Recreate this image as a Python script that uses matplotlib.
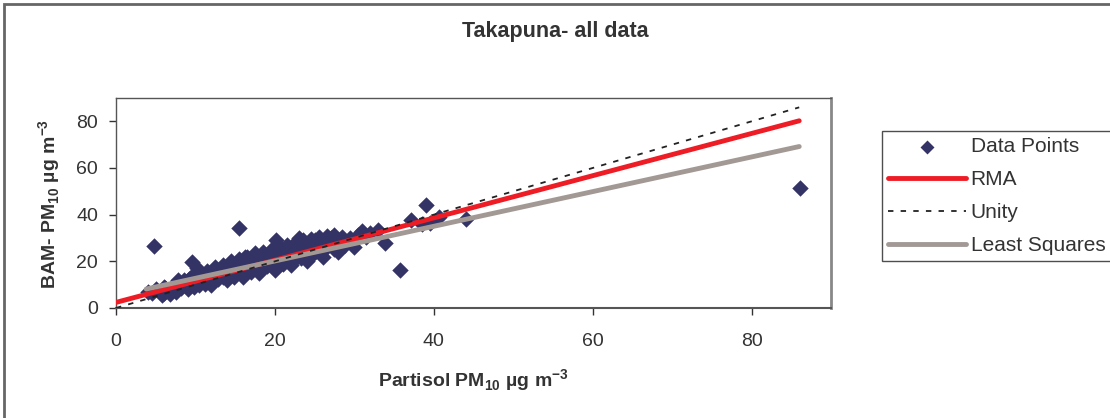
import numpy as np
import matplotlib.pyplot as plt
from matplotlib.patches import Rectangle

plt.rcParams['font.family'] = ['Liberation Sans', 'DejaVu Sans']
plt.rcParams['mathtext.fontset'] = 'custom'
plt.rcParams['mathtext.bf'] = 'Liberation Sans:bold'
plt.rcParams['mathtext.rm'] = 'Liberation Sans'

# Partisol (x) vs BAM (y)
partisol = [4.0, 4.5, 5.0, 5.5, 5.8, 6.0, 6.2, 6.5, 6.8, 7.0, 7.2, 7.5, 7.8, 8.0, 8.2,
            8.5, 8.8, 9.0, 9.2, 9.5, 9.6, 9.8, 10.0, 10.2, 10.3, 10.5, 10.8, 11.0, 11.2,
            11.5, 11.8, 12.0, 12.2, 12.5, 12.8, 13.0, 13.2, 13.5, 13.8, 14.0, 14.3, 14.5,
            14.8, 15.0, 15.2, 15.5, 15.5, 15.8, 16.0, 16.3, 16.5, 16.8, 17.0, 17.2, 17.5,
            17.8, 18.0, 18.2, 18.5, 18.8, 19.0, 19.2, 19.5, 19.8, 20.0, 20.2, 20.3, 20.5,
            20.8, 21.0, 21.2, 21.5, 21.8, 22.0, 22.3, 22.5, 22.8, 23.0, 23.0, 23.3, 23.5,
            23.8, 24.0, 24.3, 24.5, 24.8, 25.0, 25.2, 25.5, 25.8, 26.0, 26.5, 27.0, 27.0,
            27.5, 28.0, 28.5, 28.8, 29.0, 29.5, 30.0, 30.5, 31.0, 31.5, 32.0, 33.0, 33.9,
            35.7, 37.1, 38.5, 39.0, 39.5, 40.7, 44.0, 86.1, 4.8,
            6.0, 7.5, 8.5, 9.5, 10.5, 11.5, 12.5, 13.5, 14.5, 15.5, 16.5, 17.5, 18.5,
            19.5, 20.5, 21.5, 22.5, 23.5, 24.5, 25.5, 26.5, 27.5, 12.0, 14.0, 16.0,
            18.0, 20.0, 22.0, 24.0, 26.0, 28.0, 30.0]
bam = [7.0, 6.5, 8.0, 7.0, 5.5, 6.5, 8.5, 7.5, 5.8, 9.0, 8.0, 7.0, 12.0, 10.0, 8.5,
       11.0, 9.5, 8.0, 12.5, 10.5, 19.7, 9.0, 13.0, 17.0, 11.5, 10.0, 14.0, 12.0, 10.5,
       15.0, 13.0, 11.5, 16.0, 14.0, 12.5, 15.5, 17.0, 13.5, 16.5, 14.5, 18.0, 15.0,
       13.5, 17.0, 19.0, 34.2, 16.0, 14.5, 18.5, 22.0, 17.0, 20.0, 15.5, 19.0, 21.0,
       17.5, 20.5, 16.5, 19.0, 22.0, 18.0, 21.0, 23.5, 19.5, 17.5, 29.0, 22.0, 20.0,
       24.0, 19.0, 22.5, 25.5, 21.0, 23.5, 20.5, 26.0, 22.0, 30.0, 24.5, 21.5, 25.5,
       23.0, 27.0, 24.0, 22.5, 26.0, 29.0, 24.5, 27.0, 25.0, 28.0, 26.0, 30.0, 27.5,
       25.5, 29.0, 30.5, 27.0, 28.5, 30.0, 29.0, 31.5, 33.0, 30.5, 32.0, 33.5, 27.8,
       16.2, 37.6, 36.0, 44.0, 36.5, 38.9, 38.0, 51.3, 26.5,
       9.0, 10.5, 12.0, 13.5, 14.5, 16.0, 17.5, 18.5, 20.0, 21.0, 22.0, 23.5, 24.0,
       25.0, 26.5, 27.0, 28.0, 29.0, 29.5, 30.5, 31.0, 31.5, 10.0, 12.0, 13.5,
       15.0, 16.5, 18.5, 20.0, 22.0, 24.0, 26.0]

# fitted lines
rma_x = [0, 86]
rma_slope, rma_icept = 0.905, 2.4
unity_x = [0, 86]
ls_x = [3.8, 86]
ls_slope, ls_icept = 0.743, 5.3

txt = '#333333'
fig = plt.figure(figsize=(11.1, 4.18), dpi=100)
ax = fig.add_axes([116 / 1110, 1 - 308 / 418, (831 - 116) / 1110, (308 - 98) / 418])

ax.scatter(partisol, bam, marker='D', s=70, color='#333366', linewidths=0,
           zorder=2, label='Data Points')
rx = np.array(rma_x)
ax.plot(rx, rma_slope * rx + rma_icept, color='#ee1c25', lw=3.5,
        solid_capstyle='round', zorder=3, label='RMA')
ax.plot(unity_x, unity_x, color='#222222', lw=1.3, ls=(0, (3, 4)), zorder=4, label='Unity')
lx = np.array(ls_x)
ax.plot(lx, ls_slope * lx + ls_icept, color='#a29995', lw=3.5,
        solid_capstyle='round', zorder=3, label='Least Squares')

ax.set_xlim(0, 90)
ax.set_ylim(0, 90)
ax.set_xticks([0, 20, 40, 60, 80])
ax.set_yticks([0, 20, 40, 60, 80])
ax.tick_params(direction='out', length=5, width=1, labelsize=14, colors=txt)
ax.tick_params(axis='x', pad=13)
ax.tick_params(axis='y', pad=8)
for s in ax.spines.values():
    s.set_color('#555555')
    s.set_linewidth(1)
ax.spines['right'].set_color('#888888')
ax.spines['right'].set_linewidth(2)
ax.spines['bottom'].set_linewidth(1.5)

fig.text(473 / 1110, 1 - 381 / 418, r'Partisol PM$_\mathbf{10}$ µg m$^\mathbf{-3}$',
         ha='center', va='center', fontsize=14, fontweight='bold', color=txt)
fig.text(50 / 1110, 1 - 204 / 418, r'BAM- PM$_\mathbf{10}$ µg m$^\mathbf{-3}$',
         ha='center', va='center', rotation=90, fontsize=14, fontweight='bold', color=txt)
fig.text(0.5, 1 - 32 / 418, 'Takapuna- all data', ha='center', va='center',
         fontsize=15.5, fontweight='bold', color=txt)

leg = fig.legend(loc='upper left', bbox_to_anchor=(882 / 1110, 1 - 131 / 418),
                 fontsize=15, frameon=True, fancybox=False, edgecolor='#222222',
                 handlelength=3.75, handletextpad=0.2, labelspacing=0.67,
                 borderpad=0.3, borderaxespad=0, scatterpoints=1, markerscale=0.85)
leg.get_frame().set_linewidth(1)
for t in leg.get_texts():
    t.set_color(txt)

fig.patches.append(Rectangle((4 / 1110, -0.01), 1.02, 1 - 4 / 418 + 0.01,
                             transform=fig.transFigure, fill=False,
                             edgecolor='#666666', lw=2, clip_on=False))

fig.savefig('out.png', dpi=100)
